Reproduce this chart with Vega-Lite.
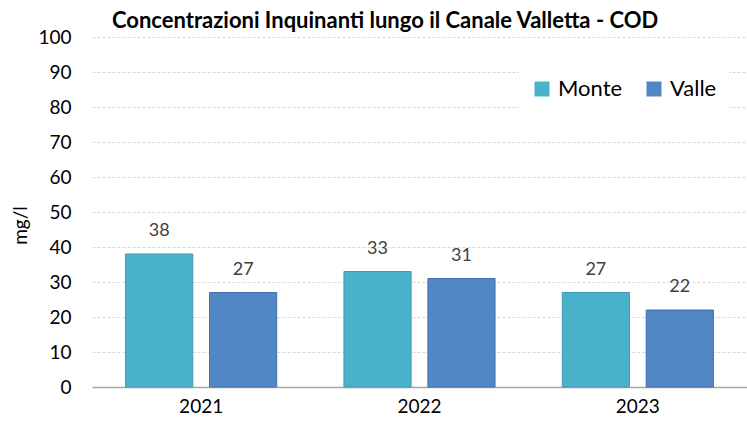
{
  "$schema": "https://vega.github.io/schema/vega-lite/v6.json",
  "autosize": {"type": "none"},
  "padding": {"left": 92, "top": 37, "right": 0, "bottom": 40},
  "width": 655,
  "height": 350,
  "background": "white",
  "view": {"stroke": null},
  "title": {
    "text": "Concentrazioni Inquinanti lungo il Canale Valletta - COD",
    "anchor": "start",
    "frame": "group",
    "dx": 20,
    "dy": 31,
    "offset": 4,
    "baseline": "bottom",
    "font": "Lato",
    "fontSize": 22,
    "fontWeight": "bold",
    "color": "#000000"
  },
  "data": {
    "values": [
      {"anno": "2021", "punto": "Monte", "cod": 38},
      {"anno": "2021", "punto": "Valle", "cod": 27},
      {"anno": "2022", "punto": "Monte", "cod": 33},
      {"anno": "2022", "punto": "Valle", "cod": 31},
      {"anno": "2023", "punto": "Monte", "cod": 27},
      {"anno": "2023", "punto": "Valle", "cod": 22}
    ]
  },
  "encoding": {
    "x": {
      "field": "anno", "type": "nominal",
      "scale": {"paddingInner": 0.308, "paddingOuter": 0.154},
      "axis": {
        "title": null, "labelAngle": 0, "ticks": false,
        "domainColor": "#A6A6A6", "domainWidth": 1.5,
        "labelFont": "Lato", "labelFontSize": 19, "labelColor": "#000000",
        "labelPadding": 10, "grid": false
      }
    },
    "xOffset": {
      "field": "punto", "type": "nominal",
      "scale": {"paddingInner": 0.2, "paddingOuter": 0}
    },
    "y": {
      "field": "cod", "type": "quantitative",
      "scale": {"domain": [0, 100], "nice": false},
      "axis": {
        "title": "mg/l",
        "values": [0, 10, 20, 30, 40, 50, 60, 70, 80, 90, 100],
        "domain": false, "ticks": false,
        "labelFont": "Lato", "labelFontSize": 19, "labelColor": "#000000",
        "labelPadding": 21,
        "gridColor": "#D9D9D9", "gridDash": [3, 2], "gridWidth": 1,
        "titleFont": "Lato", "titleFontSize": 19, "titleFontWeight": "normal",
        "titleColor": "#000000", "titleAngle": -90,
        "titleX": -72, "titleY": 188, "titleAlign": "center", "titleBaseline": "middle"
      }
    }
  },
  "layer": [
    {
      "mark": {"type": "bar", "strokeWidth": 1},
      "encoding": {
        "color": {
          "field": "punto", "type": "nominal",
          "scale": {"domain": ["Monte", "Valle"], "range": ["#4BB2CC", "#5287C6"]},
          "legend": {
            "title": null, "orient": "none", "direction": "horizontal",
            "legendX": 427, "legendY": 29,
            "fillColor": "white", "padding": 12,
            "symbolType": "square", "symbolSize": 225,
            "symbolStrokeWidth": 0, "symbolOpacity": 1,
            "labelFont": "Lato", "labelFontSize": 22, "labelColor": "#000000",
            "labelOffset": 5, "columnPadding": 20
          }
        },
        "stroke": {
          "field": "punto", "type": "nominal",
          "scale": {"domain": ["Monte", "Valle"], "range": ["#3F98AF", "#4170AA"]},
          "legend": null
        }
      }
    },
    {
      "mark": {
        "type": "text", "baseline": "bottom", "dy": -14,
        "font": "Lato", "fontSize": 18, "color": "#404040"
      },
      "encoding": {"text": {"field": "cod", "type": "quantitative"}}
    }
  ]
}
